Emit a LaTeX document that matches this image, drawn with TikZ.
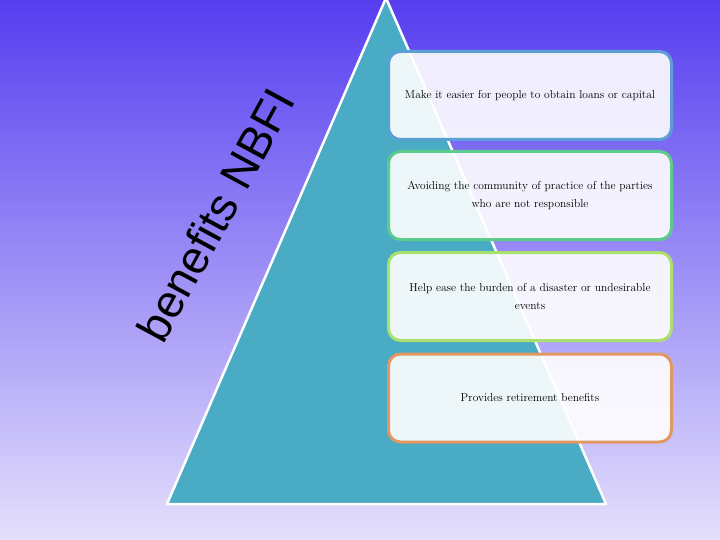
\documentclass[tikz,border=0pt]{standalone}
\usepackage{fontspec}
\newfontfamily\titlefont{Liberation Sans}
\definecolor{bgtop}{RGB}{86,62,240}
\definecolor{bgbot}{RGB}{228,224,252}
\definecolor{tealfill}{RGB}{74,171,196}
\definecolor{cardA}{RGB}{90,160,214}
\definecolor{cardB}{RGB}{92,204,140}
\definecolor{cardC}{RGB}{170,224,110}
\definecolor{cardD}{RGB}{226,152,96}
\begin{document}
\begin{tikzpicture}[x=1pt,y=-1pt,
  card/.style={draw=#1, line width=3pt, rounded corners=12pt, fill=white,
    fill opacity=0.9, text opacity=1, minimum width=283pt, minimum height=88pt,
    align=center, inner sep=0pt, font=\fontsize{11.5}{18}\selectfont},
  pyr/.style={draw=white, line width=2.5pt, fill=tealfill, line join=round},
  title/.style={rotate=61.5, anchor=base, font=\titlefont\fontsize{46}{46}\selectfont}]
\useasboundingbox (0,0) rectangle (720,540);
\shade[top color=bgtop, bottom color=bgbot] (0,0) rectangle (720,540);
\draw[pyr] (386,-2) -- (606,504) -- (167,504) -- cycle;
\node[title] (t) at (230,223) {benefits NBFI};
\node[card=cardA] (c1) at (530,95.5) {Make it easier for people to obtain loans or capital};
\node[card=cardB] (c2) at (530,195.5) {Avoiding the community of practice of the parties\\who are not responsible};
\node[card=cardC] (c3) at (530,296.5) {Help ease the burden of a disaster or undesirable\\events};
\node[card=cardD] (c4) at (530,398) {Provides retirement benefits};
\end{tikzpicture}
\end{document}
